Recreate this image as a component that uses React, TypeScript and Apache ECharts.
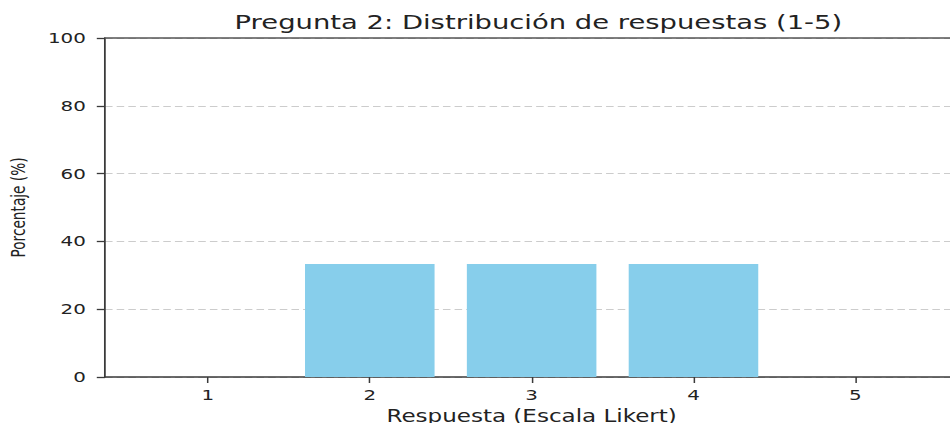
import React, { useEffect, useRef } from "react";
import * as echarts from "echarts";

const categories = [1, 2, 3, 4, 5];
const percentages = [0, 33.33, 33.33, 33.33, 0];
const yTicks = [0, 20, 40, 60, 80, 100];
const titleText = "Pregunta 2: Distribución de respuestas (1-5)";
const xName = "Respuesta (Escala Likert)";
const yName = "Porcentaje (%)";

// The reference is horizontally stretched: draw narrower, then scale in x.
const STRETCH = 1.3709;
const BASE_W = 693;
const H = 423;

export default function App() {
  const ref = useRef<HTMLDivElement>(null);
  useEffect(() => {
    if (!ref.current) return;
    const chart = echarts.init(ref.current, undefined, { renderer: "svg" });
    const axisColor = "#3a3a3a";
    const font = "DejaVu Sans";
    chart.setOption({
      animation: false,
      backgroundColor: "#ffffff",
      title: {
        text: titleText,
        left: 387.7,
        textAlign: "center",
        top: 7,
        textStyle: { fontFamily: font, fontSize: 20, fontWeight: "normal", color: "#222" },
      },
      grid: {
        left: 76.6,
        right: -6,
        top: 38,
        bottom: 46,
        containLabel: false,
        outerBoundsMode: "none",
      },
      xAxis: [
        {
          type: "value",
          min: 0.364,
          max: 5.636,
          name: xName,
          nameLocation: "middle",
          nameGap: 28.5,
          nameTextStyle: { fontFamily: font, fontSize: 16.8, color: "#222" },
          axisLine: { show: true, lineStyle: { color: axisColor, width: 1.6 } },
          axisTick: { show: true, length: 6, customValues: categories, lineStyle: { color: axisColor, width: 1.1 } },
          axisLabel: {
            customValues: categories,
            fontFamily: font,
            fontSize: 14.5,
            color: "#222",
            margin: 10.5,
          },
          splitLine: { show: false },
        },
        {
          type: "value",
          position: "top",
          min: 0.364,
          max: 5.636,
          axisLine: { show: true, onZero: false, lineStyle: { color: "#555", width: 1.6 } },
          axisTick: { show: false },
          axisLabel: { show: false },
          splitLine: { show: false },
        },
      ],
      yAxis: {
        type: "value",
        min: 0,
        max: 100,
        interval: 20,
        name: yName,
        nameLocation: "middle",
        nameGap: 56,
        nameRotate: 90,
        nameTextStyle: { fontFamily: font, fontSize: 13.7, color: "#222" },
        axisLine: { show: true, lineStyle: { color: axisColor, width: 1.3 } },
        axisTick: { show: true, length: 6, lineStyle: { color: axisColor, width: 1.3 } },
        axisLabel: {
          fontFamily: font,
          fontSize: 14.5,
          color: "#222",
          margin: 14,
          customValues: yTicks,
        },
        splitLine: {
          show: true,
          lineStyle: { color: "#cccccc", type: [5.5, 3], width: 1 },
        },
      },
      series: [
        {
          type: "bar",
          xAxisIndex: 0,
          data: categories.map((c, i) => [c, percentages[i]]),
          barWidth: 94.5,
          itemStyle: { color: "#87ceeb" },
        },
      ],
    });
    return () => chart.dispose();
  }, []);
  return (
    <div
      ref={ref}
      style={{
        position: "absolute",
        left: 0,
        top: 0,
        width: BASE_W,
        height: H,
        transform: `scaleX(${STRETCH})`,
        transformOrigin: "0 0",
      }}
    />
  );
}
